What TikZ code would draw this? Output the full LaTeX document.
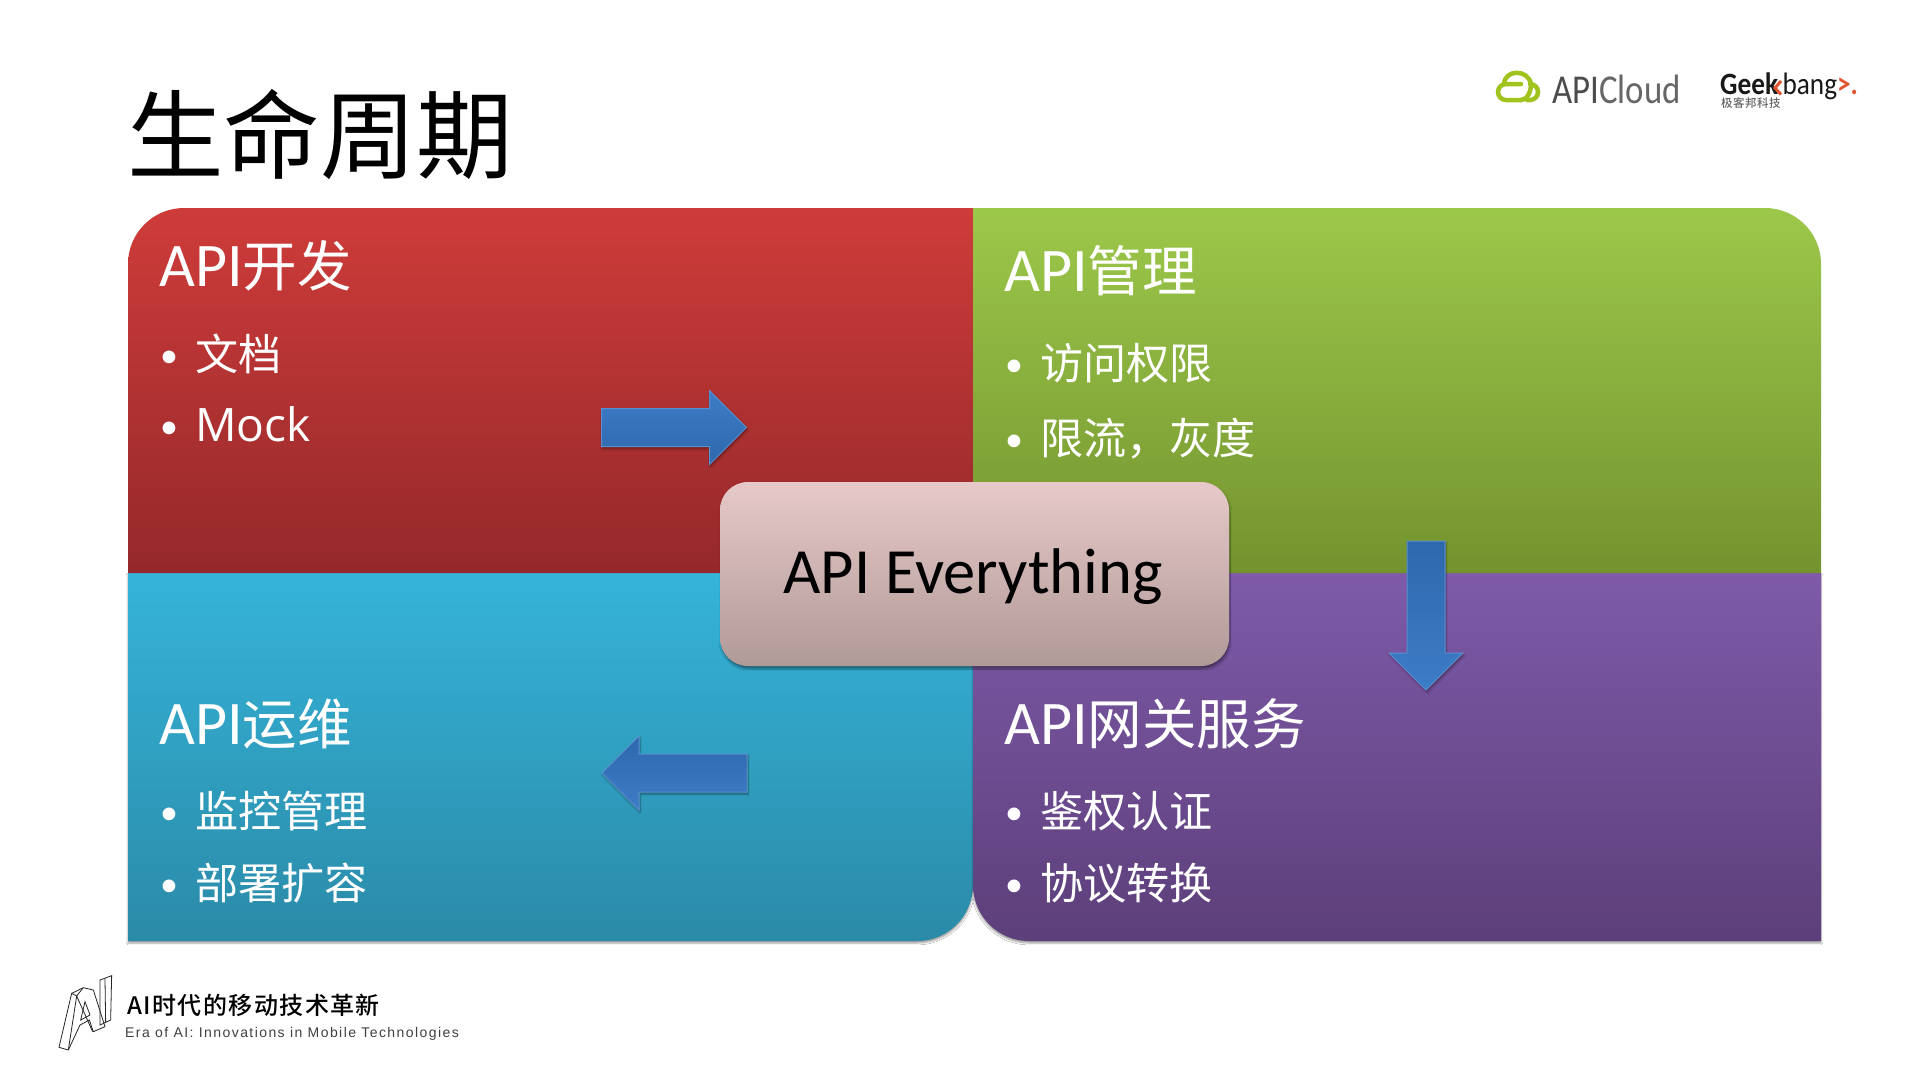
\documentclass[tikz,border=0pt]{standalone}
\usepackage{fontspec}
\usepackage{graphicx}
\usepackage{xcolor}
\usetikzlibrary{positioning,shapes.arrows,shadows.blur}
\setmainfont{Carlito}
\newfontfamily\cjk{Noto Sans CJK SC}
\newfontfamily\cjkzh[Scale=0.88]{Noto Sans CJK SC}
\newfontfamily\latinzh[Scale=0.94]{Open Sans}
\newfontfamily\spaced[LetterSpace=10.2]{Liberation Sans}
\newfontfamily\spacedcjk[LetterSpace=6]{Noto Sans CJK SC Medium}
\newfontfamily\tagcjk[LetterSpace=4]{Noto Sans CJK SC Medium}
\newcommand{\zh}[1]{{\cjkzh #1}}
\newcommand{\bul}{\makebox[35pt][l]{{\fontsize{36}{36}\selectfont\raisebox{3pt}{\textbullet}}}}
\definecolor{redtop}{HTML}{CE3C3A}
\definecolor{redbot}{HTML}{95282A}
\definecolor{greentop}{HTML}{9CC84A}
\definecolor{greenbot}{HTML}{74932F}
\definecolor{cyantop}{HTML}{35B4D9}
\definecolor{cyanbot}{HTML}{2B8AA8}
\definecolor{purptop}{HTML}{7E5AA9}
\definecolor{purpbot}{HTML}{5D3F7A}
\definecolor{pinktop}{HTML}{E7C9C9}
\definecolor{pinkbot}{HTML}{B09A98}
\definecolor{arrowa}{HTML}{3D7CC6}
\definecolor{arrowb}{HTML}{2E68AD}
\definecolor{cloudgreen}{HTML}{A0C31E}
\definecolor{geekorange}{HTML}{E0552F}
\tikzset{
  head/.style={anchor=west,inner sep=0pt,text=white,font=\fontsize{62}{66}\selectfont},
  entry/.style={anchor=west,inner sep=0pt,text=white,font=\fontsize{49}{54}\selectfont},
  block/.style={single arrow,draw=arrowa!85!white,line width=1pt,minimum height=145pt,
    inner xsep=0pt,inner ysep=18.5pt,single arrow head extend=18pt,single arrow tip angle=90,
    blur shadow={shadow xshift=1pt,shadow yshift=-2pt,shadow blur steps=6}},
  hub/.style={rounded corners=28pt,top color=pinktop,bottom color=pinkbot,minimum width=509pt,
    minimum height=184pt,inner sep=0pt,font=\fontsize{64.5}{70}\selectfont,
    blur shadow={shadow xshift=1pt,shadow yshift=-3pt,shadow blur steps=8}}
}
\begin{document}
\begin{tikzpicture}[x=1pt,y=-1pt]
	\useasboundingbox[fill=white] (0,0) rectangle (1919,1079);

	\node[anchor=west,inner sep=0pt,font=\fontsize{96.5}{100}\cjk] (title) at (127,135) {生命周期};

	% the four quarters
	\shade[top color=cyantop,bottom color=cyanbot,blur shadow={shadow xshift=0pt,shadow yshift=-2pt}]
		(128,573) -- (128,941) [rounded corners=56pt] -- (973,941) -- (973,573) [sharp corners] -- cycle;
	\shade[top color=purptop,bottom color=purpbot,blur shadow={shadow xshift=0pt,shadow yshift=-2pt}]
		(973,573) [rounded corners=56pt] -- (973,941) [sharp corners] -- (1821,941) -- (1821,573) -- cycle;
	\shade[top color=redtop,bottom color=redbot]
		(973,208) [rounded corners=56pt] -- (128,208) [sharp corners] -- (128,573) -- (973,573) -- cycle;
	\shade[top color=greentop,bottom color=greenbot]
		(973,208) [rounded corners=56pt] -- (1821,208) [sharp corners] -- (1821,573) -- (973,573) -- cycle;

	\node[head] (dev) at (159,266) {API\zh{开发}};
	\node[entry] (doc) at (160,354) {\bul\zh{文档}};
	\node[entry] (mock) at (160,424) {\bul{\latinzh Mock}};

	\node[head] (mgmt) at (1004,271) {API\zh{管理}};
	\node[entry] (acl) at (1005,363) {\bul\zh{访问权限}};
	\node[entry] (limit) at (1005,439) {\bul\zh{限流，灰度}};

	\node[head] (ops) at (159,724) {API\zh{运维}};
	\node[entry] (mon) at (160,811) {\bul\zh{监控管理}};
	\node[entry] (dep) at (160,883) {\bul\zh{部署扩容}};

	\node[head] (gw) at (1004,724) {API\zh{网关服务}};
	\node[entry] (auth) at (1005,811) {\bul\zh{鉴权认证}};
	\node[entry] (conv) at (1005,883) {\bul\zh{协议转换}};

	\node[hub] (core) at (974.5,574) {\raisebox{-3pt}[\height][\depth]{\hspace{-3pt}API Everything}};

	\node[block,shading angle=0,top color=arrowa,bottom color=arrowb] (toright) at (664.5,427.5) {};
	\node[block,rotate=-90,minimum height=149pt,left color=arrowb,right color=arrowa,shading angle=0] (todown) at (1426,606) {};
	\node[block,rotate=180,top color=arrowb,bottom color=arrowa] (toleft) at (684,773) {};

	% logos
	\draw[cloudgreen,line width=4.5pt,line cap=round] (1521,100) -- (1506,100) arc (90:270:8) -- (1521,84);
	\draw[cloudgreen,line width=4.5pt,line cap=round] (1504,84) .. controls (1505,69) and (1528,69) .. (1531,84) .. controls (1531,92) and (1527,100) .. (1521,100);
	\draw[cloudgreen,line width=4.5pt,line cap=round] (1530,84) arc (270:450:8) -- (1527,100);
	\node[anchor=west,inner sep=0pt,text=black!70,font=\fontsize{41}{44}\selectfont] (apicloud) at (1552,89) {\scalebox{0.85}[1]{API{\color{black!60}Cloud}}};
	\node[anchor=west,inner sep=0pt,text=black!90,font=\fontsize{31}{32}\selectfont] (geek) at (1720,86) {\scalebox{0.88}[1]{\textbf{Geek}\kern5pt bang{\color{geekorange}\textbf{>.}}}};
	\draw[geekorange,line width=3pt] (1781,81) -- (1775,88) -- (1781,94.5);
	\node[anchor=west,inner sep=0pt,text=black!60,font=\fontsize{11.5}{13}\selectfont] (geekcn) at (1721,103) {\tagcjk 极客邦科技};

	\begin{scope}[shift={(50,970)},x=0.3333pt,y=-0.3333pt,black!85,line width=0.8pt]
		\draw (27,232) -- (65,70) -- (100,53) -- (130,60) -- (165,170) -- (130,185) -- (118,150) -- (90,165) -- (55,240) -- cycle;
		\draw (65,70) -- (80,78) -- (100,53);
		\draw (80,78) -- (55,240);
		\draw (80,78) -- (128,185);
		\draw (92,150) -- (120,135) -- (105,95) -- cycle;
		\draw (150,30) -- (185,17) -- (182,150) -- (150,165) -- cycle;
		\draw (165,25) -- (167,158);
	\end{scope}
	\node[anchor=west,inner sep=0pt,font=\fontsize{24}{26}\selectfont] (eratitle) at (127,1005) {\spacedcjk AI时代的移动技术革新};
	\node[anchor=west,inner sep=0pt,text=black!75,font=\fontsize{14}{16}\selectfont] (erasub) at (125,1034) {\spaced Era of AI: Innovations in Mobile Technologies};
\end{tikzpicture}
\end{document}
